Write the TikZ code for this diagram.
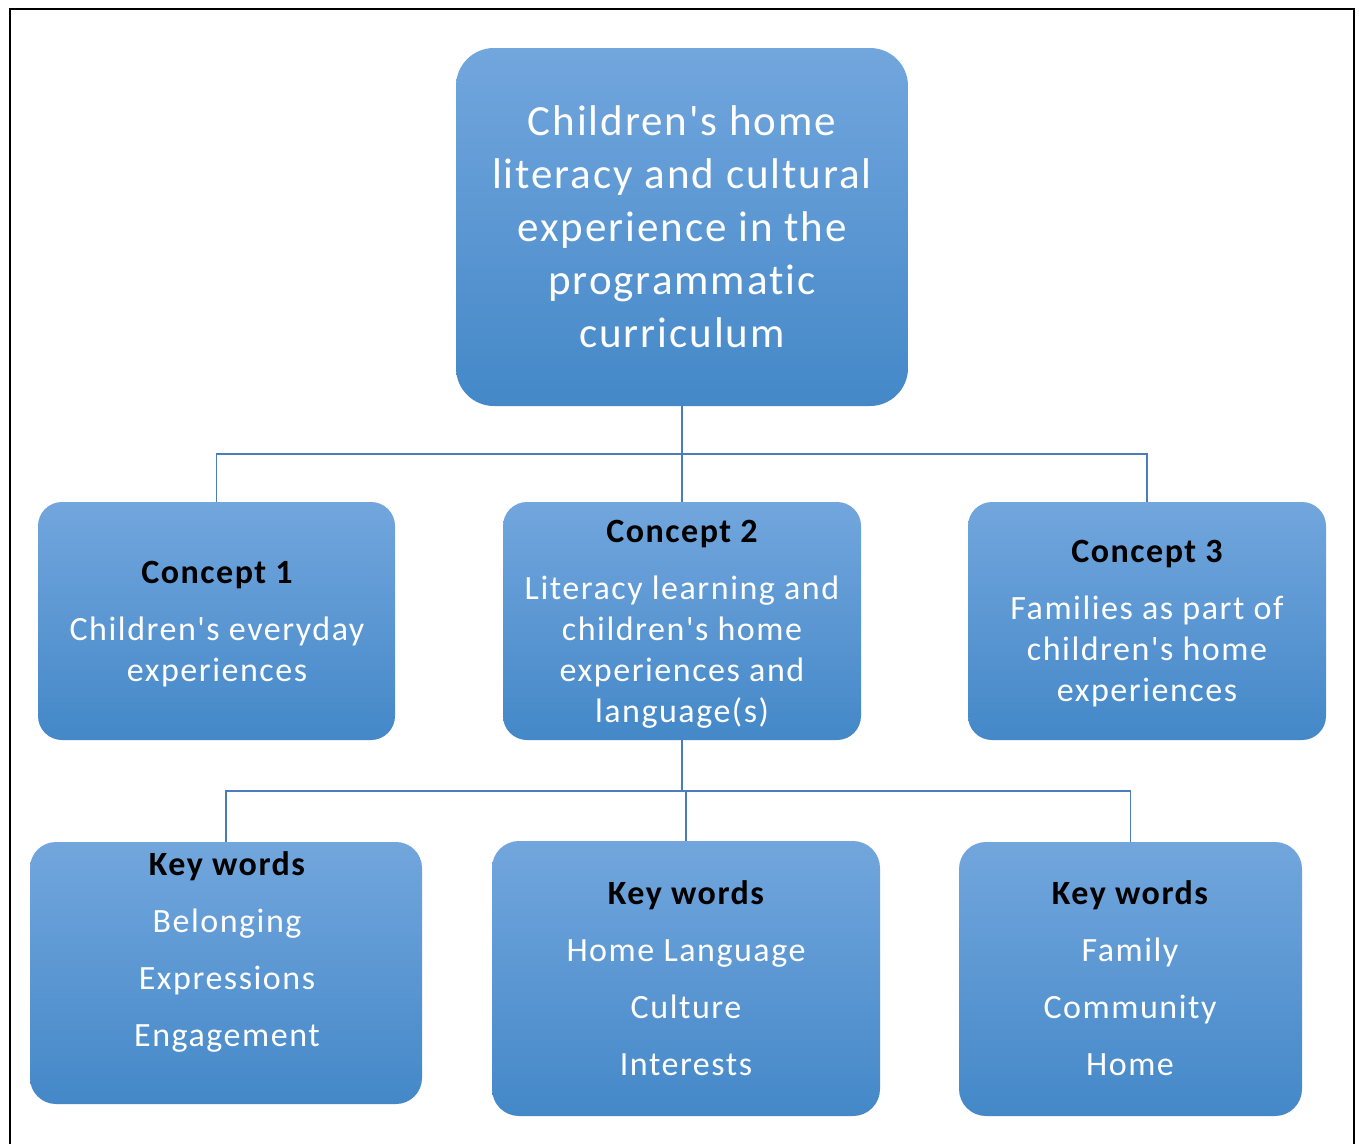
\documentclass[tikz,border=0pt]{standalone}
\usepackage{fontspec}
\setmainfont{Carlito}[Ligatures={TeXOff,NoCommon}, LetterSpace=4.5]
\definecolor{boxtop}{RGB}{114,166,221}
\definecolor{boxbot}{RGB}{68,136,200}
\definecolor{conncol}{RGB}{74,126,187}
\begin{document}
\begin{tikzpicture}[x=1pt,y=-1pt,
  box/.style={rectangle, inner sep=0pt, draw=none, top color=boxtop, bottom color=boxbot},
  big/.style={text=white, anchor=base, inner sep=0pt, font=\fontsize{43}{53}\selectfont},
  txt/.style={text=white, anchor=base, inner sep=0pt, font=\fontsize{34}{41}\selectfont},
  head/.style={text=black, anchor=base, inner sep=0pt, font=\fontsize{34}{41}\selectfont\bfseries},
  conn/.style={draw=conncol, line width=1.3pt}]
\useasboundingbox (0,0) rectangle (1359,1143);
\path[fill=white] (0,0) rectangle (1359,1143);
\draw[line width=2pt] (10,1150) -- (10,9) -- (1354,9) -- (1354,1150);

% boxes
\node[box, rounded corners=38pt, minimum width=452pt, minimum height=358pt] (top) at (682,227) {};
\node[box, rounded corners=24pt, minimum width=357pt, minimum height=238pt] (c1) at (216.5,621) {};
\node[box, rounded corners=24pt, minimum width=358pt, minimum height=238pt] (c2) at (682,621) {};
\node[box, rounded corners=24pt, minimum width=358pt, minimum height=238pt] (c3) at (1147,621) {};
\node[box, rounded corners=26pt, minimum width=392pt, minimum height=262pt] (k1) at (226,973) {};
\node[box, rounded corners=27pt, minimum width=388pt, minimum height=275pt] (k2) at (686,978.5) {};
\node[box, rounded corners=27pt, minimum width=343pt, minimum height=274pt] (k3) at (1130.5,979) {};

% connectors
\coordinate (bus1) at (682,454);
\coordinate (bus2) at (682,791);
\draw[conn] (top.south) -- (c2.north);
\draw[conn] (c1.north) -- (c1.north |- bus1) -- (c3.north |- bus1) -- (c3.north);
\draw[conn] (c2.south) -- (c2.south |- bus2);
\draw[conn] (k1.north) -- (k1.north |- bus2) -- (k3.north |- bus2) -- (k3.north);
\draw[conn] (k2.north) -- (k2.north |- bus2);

% top text
\foreach \t [count=\i] in {Children's home, literacy and cultural, experience in the, programmatic, curriculum}
  \node[big] (tt\i) at (682,{135+53*(\i-1)}) {\t};

% concept 1
\node[head] (c1h) at (217,583) {Concept 1};
\node[txt] (c1a) at (217,640) {Children's everyday};
\node[txt] (c1b) at (217,681) {experiences};

% concept 2
\node[head] (c2h) at (682,542) {Concept 2};
\foreach \t [count=\i] in {Literacy learning and, children's home, experiences and, language(s)}
  \node[txt] (c2t\i) at (682,{599+41*(\i-1)}) {\t};

% concept 3
\node[head] (c3h) at (1147,562) {Concept 3};
\foreach \t [count=\i] in {Families as part of, children's home, experiences}
  \node[txt] (c3t\i) at (1147,{619+41*(\i-1)}) {\t};

% key words 1
\node[head] (k1h) at (227,875) {Key words};
\foreach \t [count=\i] in {Belonging, Expressions, Engagement}
  \node[txt] (k1t\i) at (227,{875+57*\i}) {\t};

% key words 2
\node[head] (k2h) at (686,904) {Key words};
\foreach \t [count=\i] in {Home Language, Culture, Interests}
  \node[txt] (k2t\i) at (686,{904+57*\i}) {\t};

% key words 3
\node[head] (k3h) at (1130,904) {Key words};
\foreach \t [count=\i] in {Family, Community, Home}
  \node[txt] (k3t\i) at (1130,{904+57*\i}) {\t};
\end{tikzpicture}
\end{document}
